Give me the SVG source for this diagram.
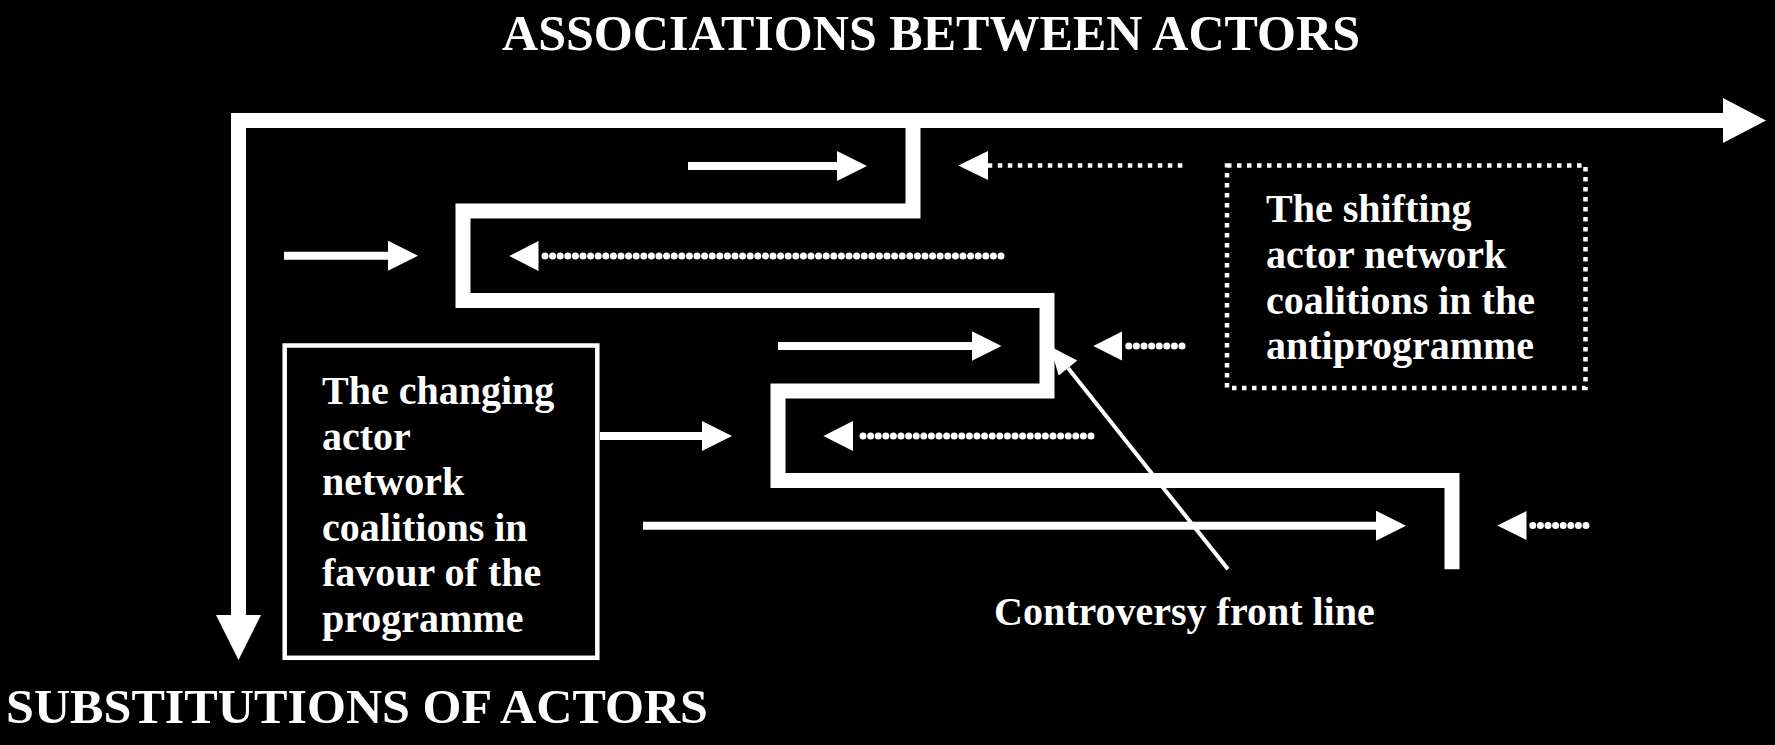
<svg xmlns="http://www.w3.org/2000/svg" width="1775" height="745" viewBox="0 0 1775 745">
<style>
text{font-family:"Liberation Serif","Times New Roman",serif;font-weight:bold;fill:#fff}
.title{font-size:50px}
.lbl{font-size:40px}
.thick{fill:none;stroke:#fff;stroke-width:15;stroke-linejoin:miter;stroke-linecap:butt}
.solid{stroke:#fff;stroke-width:8;fill:none}
.dots{stroke:#fff;stroke-width:7;stroke-linecap:round;stroke-dasharray:0 7.6;fill:none}
.sq{stroke:#fff;stroke-width:4.5;stroke-dasharray:4.5 5.5;fill:none}
.head{fill:#fff}
</style>
<defs>
<marker id="ah" markerUnits="userSpaceOnUse" viewBox="0 0 30 30" refX="1" refY="15" markerWidth="30" markerHeight="30" orient="auto">
<path d="M0,0 L30,15 L0,30 Z" fill="#fff"/>
</marker>
</defs>
<rect x="0" y="0" width="1775" height="745" fill="#000"/>

<g id="title-associations">
<text class="title" x="502" y="50" textLength="858" lengthAdjust="spacingAndGlyphs">ASSOCIATIONS BETWEEN ACTORS</text>
</g>
<g id="title-substitutions">
<text class="title" x="6" y="723" style="font-size:48px" textLength="702" lengthAdjust="spacingAndGlyphs">SUBSTITUTIONS OF ACTORS</text>
</g>

<g id="axes">
<path class="thick" d="M238.5 615 V120.5 H1723"/>
<polygon class="head" points="1723,98 1766,120.5 1723,143"/>
<polygon class="head" points="216,615 238.5,660 261,615"/>
</g>

<g id="front-line">
<path class="thick" d="M913 120.5 V211 H463 V300.5 H1047 V391 H778 V480.5 H1452 V569.3"/>
</g>

<g id="programme-box">
<rect x="284.7" y="345.5" width="312.6" height="312.3" fill="none" stroke="#fff" stroke-width="4.5"/>
<text class="lbl" x="322" y="404">The changing</text>
<text class="lbl" x="322" y="449.6">actor</text>
<text class="lbl" x="322" y="495.2">network</text>
<text class="lbl" x="322" y="540.8">coalitions in</text>
<text class="lbl" x="322" y="586.4">favour of the</text>
<text class="lbl" x="322" y="632">programme</text>
</g>

<g id="antiprogramme-box">
<rect x="1227" y="165.5" width="358.5" height="222.5" class="sq"/>
<text class="lbl" x="1266" y="222">The shifting</text>
<text class="lbl" x="1266" y="267.8">actor network</text>
<text class="lbl" x="1266" y="313.6">coalitions in the</text>
<text class="lbl" x="1266" y="359.4">antiprogramme</text>
</g>

<g id="controversy-label">
<line x1="1228" y1="569.3" x2="1068" y2="368" stroke="#fff" stroke-width="4"/>
<polygon class="head" points="1050.2,346.4 1077.3,360.4 1058.7,375.6"/>
<text class="lbl" x="994" y="625">Controversy front line</text>
</g>

<g id="connectors">
<line class="solid" x1="688" y1="166" x2="838" y2="166" marker-end="url(#ah)"/>
<line class="solid" x1="284" y1="255.7" x2="389" y2="255.7" marker-end="url(#ah)"/>
<line class="solid" x1="778" y1="346" x2="972.5" y2="346" marker-end="url(#ah)"/>
<line class="solid" x1="600" y1="436" x2="703" y2="436" marker-end="url(#ah)"/>
<line class="solid" x1="643" y1="525.7" x2="1377" y2="525.7" marker-end="url(#ah)"/>

<line class="sq" x1="1182.3" y1="165.5" x2="987" y2="165.5"/>
<line class="dots" x1="1001" y1="256" x2="542" y2="256"/>
<line class="dots" x1="1182" y1="346" x2="1125" y2="346"/>
<line class="dots" x1="1091" y1="436" x2="857" y2="436"/>
<line class="dots" x1="1586" y1="525.5" x2="1529" y2="525.5"/>

<polygon class="head" points="988,151 958.3,165.5 988,180"/>
<polygon class="head" points="538.5,241 509.3,256 538.5,271"/>
<polygon class="head" points="1122,331.5 1093.3,346 1122,360.5"/>
<polygon class="head" points="853,421 823.4,436 853,451"/>
<polygon class="head" points="1526.5,511 1497.3,525.5 1526.5,540"/>
</g>
</svg>
